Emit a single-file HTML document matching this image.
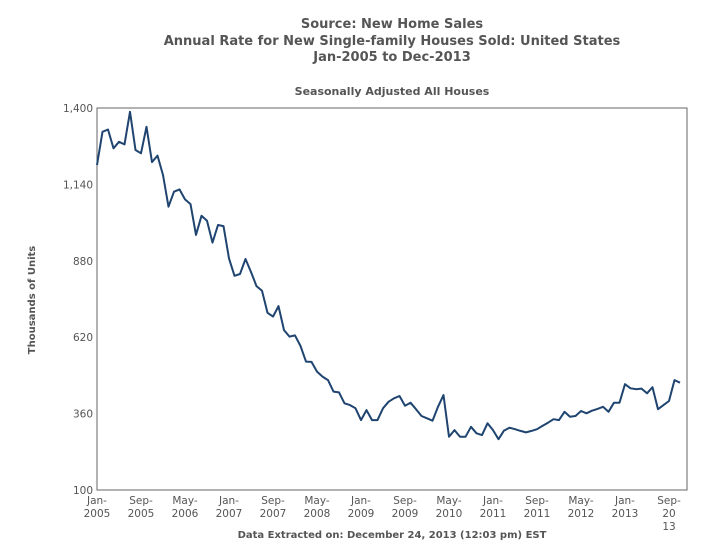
<!DOCTYPE html>
<html><head><meta charset="utf-8"><style>
body{margin:0;background:#fff;font-family:"DejaVu Sans",Verdana,sans-serif}
svg text{font-family:"DejaVu Sans",Verdana,sans-serif}
</style></head><body>
<svg id="c" width="702" height="550" xmlns="http://www.w3.org/2000/svg">
<g fill="#555" font-weight="bold" font-size="13" text-anchor="middle">
<text x="392" y="28">Source: New Home Sales</text>
<text x="392" y="45">Annual Rate for New Single-family Houses Sold: United States</text>
<text x="392" y="61">Jan-2005 to Dec-2013</text>
</g>
<text x="392" y="95" fill="#555" font-weight="bold" font-size="11" text-anchor="middle">Seasonally Adjusted All Houses</text>
<text transform="translate(35,300) rotate(-90)" fill="#555" font-weight="bold" font-size="10" text-anchor="middle">Thousands of Units</text>
<text x="392" y="538" fill="#555" font-weight="bold" font-size="10" text-anchor="middle">Data Extracted on: December 24, 2013 (12:03 pm) EST</text>
<rect x="97" y="108" width="590" height="382" fill="none" stroke="#666" stroke-width="1"/>
<g id="yt"></g><g id="xt"></g>
<path id="ln" fill="none" stroke="#1f4470" stroke-width="2" stroke-linejoin="round"/>
</svg>
<script>
const yTicks=[100,360,620,880,1140,1400];
const xTickMonths=[0,8,16,24,32,40,48,56,64,72,80,88,96,104];
const xTickLabels=[["Jan-","2005"],["Sep-","2005"],["May-","2006"],["Jan-","2007"],["Sep-","2007"],["May-","2008"],["Jan-","2009"],["Sep-","2009"],["May-","2010"],["Jan-","2011"],["Sep-","2011"],["May-","2012"],["Jan-","2013"],["Sep-","20","13"]];
const sales=[1206,1319,1327,1263,1285,1276,1387,1257,1246,1336,1216,1238,1172,1064,1115,1123,1089,1073,968,1033,1016,942,1002,998,888,829,835,886,842,794,778,703,690,726,644,622,626,590,537,536,503,486,474,435,432,395,389,378,338,372,338,338,378,400,412,420,387,397,375,352,344,336,383,423,281,304,281,281,315,293,287,327,304,273,302,312,307,301,296,301,307,318,329,341,338,366,349,352,369,361,370,376,383,366,397,397,460,446,443,445,429,450,375,389,403,474,465];
const x=m=>97+m*5.5;
const y=v=>490-(v-100)*382/1300;
const NS="http://www.w3.org/2000/svg";
const yt=document.getElementById('yt');
yTicks.forEach(v=>{
 const t=document.createElementNS(NS,'text');
 t.setAttribute('x',93);t.setAttribute('y',y(v)+4);t.setAttribute('text-anchor','end');
 t.setAttribute('font-size','10.5');t.setAttribute('fill','#555');
 t.textContent=v.toLocaleString('en-US');
 
 
 yt.appendChild(t);
});
const xt=document.getElementById('xt');
xTickMonths.forEach((m,i)=>{
 const t=document.createElementNS(NS,'text');
 t.setAttribute('text-anchor','middle');t.setAttribute('font-size','10.5');t.setAttribute('fill','#555');
 xTickLabels[i].forEach((s,j)=>{
  const sp=document.createElementNS(NS,'tspan');
  sp.setAttribute('x',x(m));sp.setAttribute('y',504+j*13);sp.textContent=s;t.appendChild(sp);
 });
 
 
 xt.appendChild(t);
});
document.getElementById('ln').setAttribute('d',sales.map((v,i)=>(i?'L':'M')+x(i).toFixed(1)+','+y(v).toFixed(1)).join(''));
</script>
</body></html>
